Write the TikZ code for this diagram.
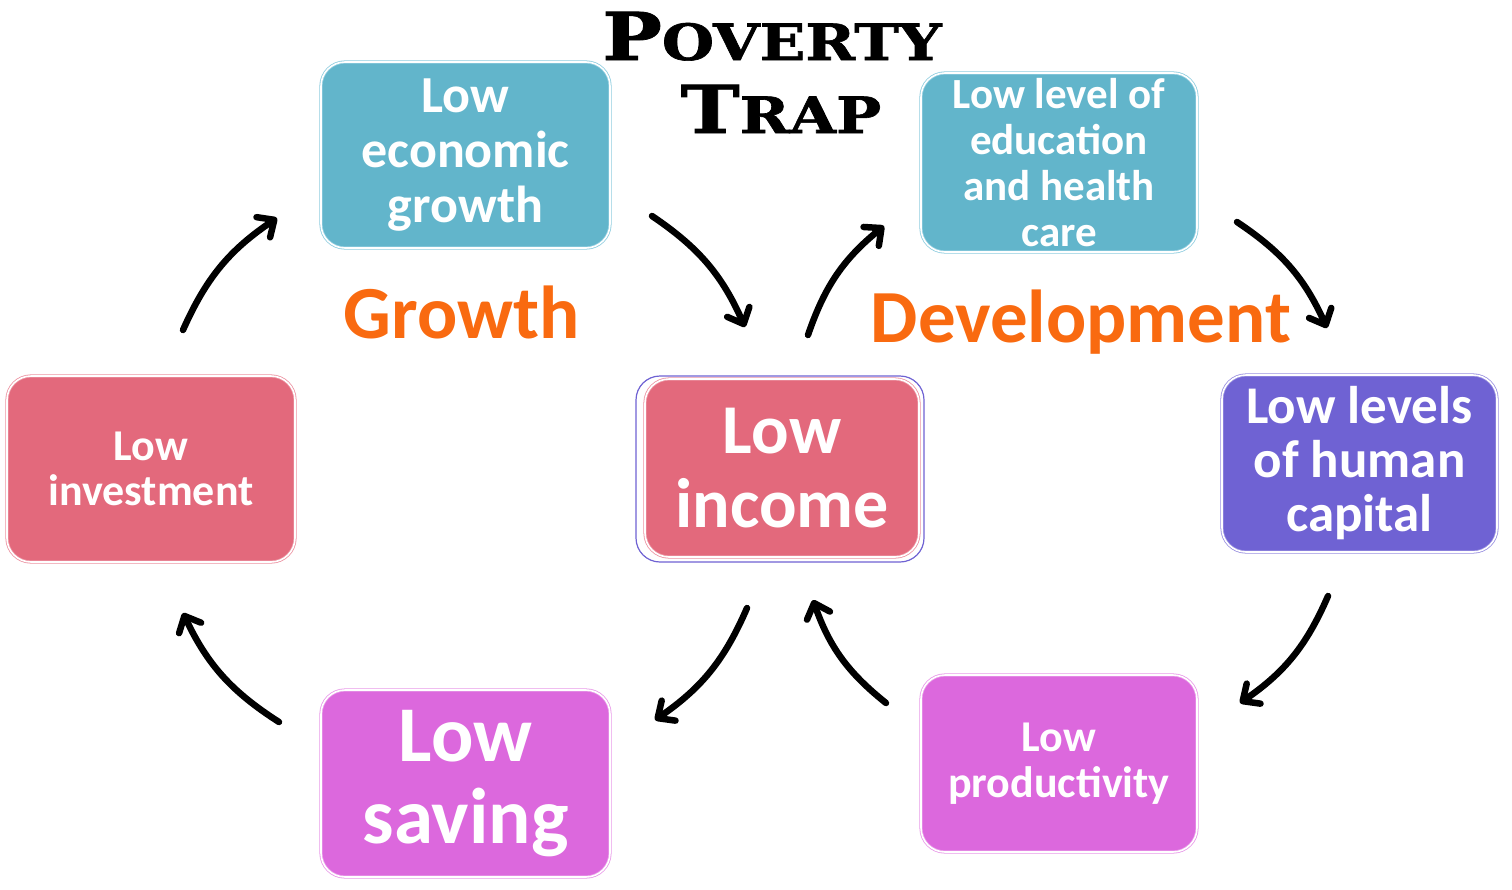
\documentclass[tikz,border=0pt]{standalone}
\usepackage{fontspec}
\setmainfont{Carlito}
\newfontfamily\titlefont[BoldFeatures={FakeBold=1.2}]{DejaVu Serif}
\usetikzlibrary{arrows.meta}
\definecolor{teal1}{HTML}{62B5CB}
\definecolor{teal2}{HTML}{8FCDDF}
\definecolor{pink1}{HTML}{E3697C}
\definecolor{pink2}{HTML}{EC93A2}
\definecolor{purp1}{HTML}{6F62D3}
\definecolor{purp2}{HTML}{9990E0}
\definecolor{mag1}{HTML}{DC68DD}
\definecolor{mag2}{HTML}{E89AE8}
\definecolor{orange1}{HTML}{F96A10}
\tikzset{
  box/.style={rounded corners=24pt, inner sep=0pt, align=center, text=white,
    line width=0.8pt, double distance=1.6pt},
  tealbox/.style={box, fill=teal1, draw=teal2, double=white},
  pinkbox/.style={box, fill=pink1, draw=pink2, double=white},
  purpbox/.style={box, fill=purp1, draw=purp2, double=white},
  magbox/.style={box, fill=mag1, draw=mag2, double=white},
  fs/.style 2 args={font={\bfseries\fontsize{#1}{#2}\selectfont}},
  cyc/.style={line width=6.5pt, line cap=round, -{Straight Barb[angle=85:18pt, line width=6.5pt, round]}, bend left=16},
  lbl/.style={text=orange1, font=\bfseries\fontsize{75}{80}\selectfont, inner sep=0pt}
}
\begin{document}
\begin{tikzpicture}[x=1pt,y=-1pt]
\useasboundingbox (0,0) rectangle (1512,889);
% title
\node[anchor=base, inner sep=0pt] (t1) at (772,60) {\scalebox{1.2}[1]{\titlefont\bfseries\fontsize{66}{66}\selectfont P\fontsize{50}{50}\selectfont OVERTY}};
\node[anchor=base, inner sep=0pt] (t2) at (781,133) {\scalebox{1.2}[1]{\titlefont\bfseries\fontsize{66}{66}\selectfont T\fontsize{50}{50}\selectfont RAP}};
% boxes
\node[tealbox, fs={52}{55}, minimum width=289pt, minimum height=186pt] (growth) at (465.5,155)
  {Low\\economic\\growth};
\node[tealbox, fs={43}{46}, minimum width=276pt, minimum height=179pt] (educ) at (1059,162.5)
  {Low level of\\education\\and health\\care};
\node[pinkbox, fs={44}{45}, minimum width=288pt, minimum height=186pt] (invest) at (151,469)
  {Low\\investment};
\draw[rounded corners=24pt, draw=purp1, line width=1.2pt, fill=white] (636,376) rectangle (924,562);
\node[pinkbox, fs={70}{74}, minimum width=274pt, minimum height=178pt] (income) at (782,468)
  {Low\\income};
\node[purpbox, fs={53}{54}, minimum width=275pt, minimum height=177pt] (human) at (1359.5,463.5)
  {Low levels\\of human\\capital};
\node[magbox, fs={79}{82}, minimum width=289pt, minimum height=187pt] (saving) at (465.5,783.5)
  {Low\\saving};
\node[magbox, fs={44}{46}, minimum width=276pt, minimum height=177pt] (product) at (1059,763.5)
  {Low\\productivity};
% labels
\node[lbl, anchor=base] (glab) at (462,338) {Growth};
\node[lbl, anchor=base] (dlab) at (1081,342) {Development};
% arrow end points
\coordinate (a1s) at (183,330); \coordinate (a1e) at (277,218);
\coordinate (a2s) at (652,216); \coordinate (a2e) at (745,327);
\coordinate (a3s) at (808,335); \coordinate (a3e) at (884,226);
\coordinate (a4s) at (1237,222); \coordinate (a4e) at (1327,328);
\coordinate (a5s) at (1328,596); \coordinate (a5e) at (1240,703);
\coordinate (a6s) at (886,703); \coordinate (a6e) at (813,600);
\coordinate (a7s) at (747,608); \coordinate (a7e) at (655,720);
\coordinate (a8s) at (279,722); \coordinate (a8e) at (183,613);
\foreach \i in {1,...,8} {\draw[cyc] (a\i s) to (a\i e);}
\end{tikzpicture}
\end{document}
